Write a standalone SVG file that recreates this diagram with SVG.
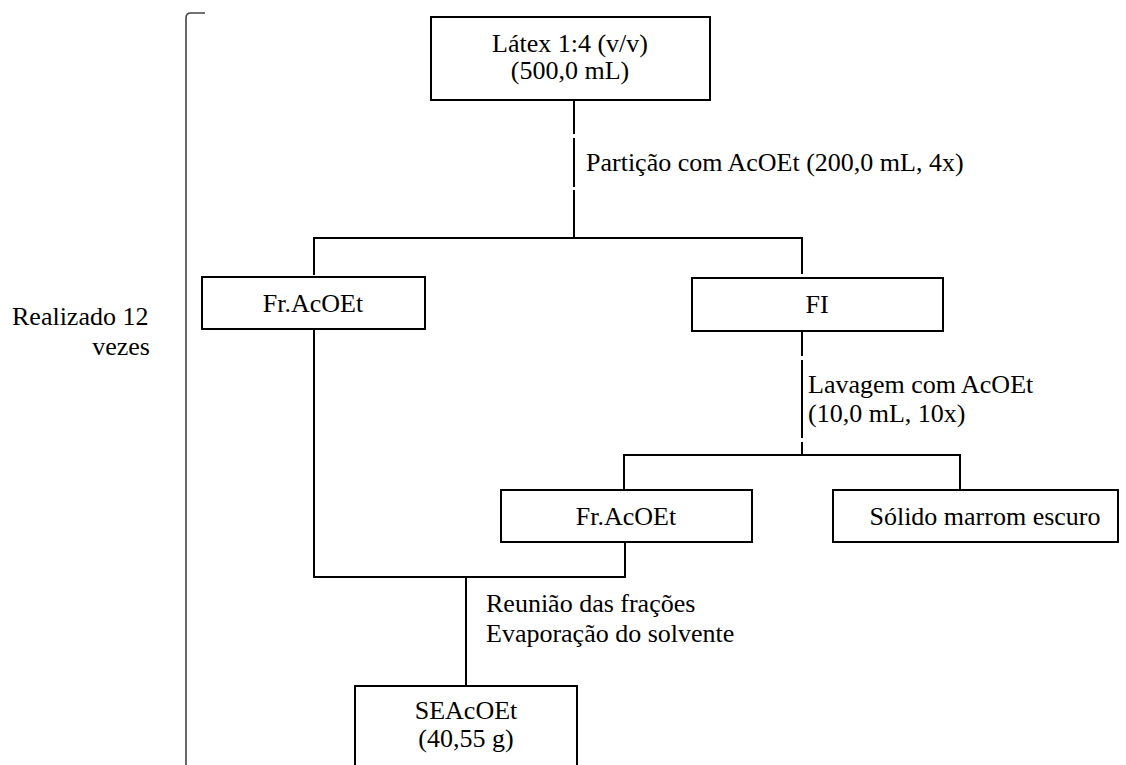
<svg xmlns="http://www.w3.org/2000/svg" width="1126" height="765" viewBox="0 0 1126 765">
<style>
.box{fill:#fff;stroke:#000;stroke-width:2}
.ln{fill:none;stroke:#000;stroke-width:2}
.br{fill:none;stroke:#444;stroke-width:1.6}
.t{font-family:'Liberation Serif','Times New Roman',serif;font-size:26px;fill:#000}
.c{text-anchor:middle}
.e{text-anchor:end}
</style>
<rect width="1126" height="765" fill="#fff"/>
<g id="bracket">
<path class="br" d="M186,765 V18 Q186,13 191,13 H205"/>
<text class="t" x="12" y="325">Realizado 12</text>
<text class="t e" x="150" y="355">vezes</text>
</g>
<g id="connectors">
<line class="ln" x1="574" y1="101" x2="574" y2="134"/>
<line class="ln" x1="574" y1="138" x2="574" y2="187"/>
<line class="ln" x1="574" y1="190" x2="574" y2="238"/>
<polyline class="ln" points="314,275 314,238 802,238 802,274"/>
<polyline class="ln" points="314,330 314,577 625,577 625,543"/>
<line class="ln" x1="466" y1="577" x2="466" y2="686"/>
<line class="ln" x1="802" y1="332" x2="802" y2="356"/>
<line class="ln" x1="802" y1="360" x2="802" y2="438"/>
<line class="ln" x1="802" y1="442" x2="802" y2="455"/>
<polyline class="ln" points="624,489 624,455 960,455 960,489"/>
<text class="t" x="586" y="171">Partição com AcOEt (200,0 mL, 4x)</text>
<text class="t" x="808" y="393">Lavagem com AcOEt</text>
<text class="t" x="808" y="422">(10,0 mL, 10x)</text>
<text class="t" x="486" y="612">Reunião das frações</text>
<text class="t" x="486" y="642">Evaporação do solvente</text>
</g>
<g id="latex">
<rect class="box" x="431" y="17" width="279" height="83"/>
<text class="t c" x="570" y="52">Látex 1:4 (v/v)</text>
<text class="t c" x="570" y="79">(500,0 mL)</text>
</g>
<g id="fracetil1">
<rect class="box" x="202" y="277" width="223" height="52"/>
<text class="t c" x="313" y="312">Fr.AcOEt</text>
</g>
<g id="fi">
<rect class="box" x="692" y="278" width="251" height="53"/>
<text class="t c" x="817" y="313">FI</text>
</g>
<g id="fracetil2">
<rect class="box" x="501" y="490" width="251" height="52"/>
<text class="t c" x="626" y="525">Fr.AcOEt</text>
</g>
<g id="solido">
<rect class="box" x="833" y="490" width="285" height="52"/>
<text class="t c" x="985" y="525">Sólido marrom escuro</text>
</g>
<g id="seacoet">
<rect class="box" x="355" y="686" width="222" height="90"/>
<text class="t c" x="466" y="719">SEAcOEt</text>
<text class="t c" x="466" y="747">(40,55 g)</text>
</g>
</svg>
